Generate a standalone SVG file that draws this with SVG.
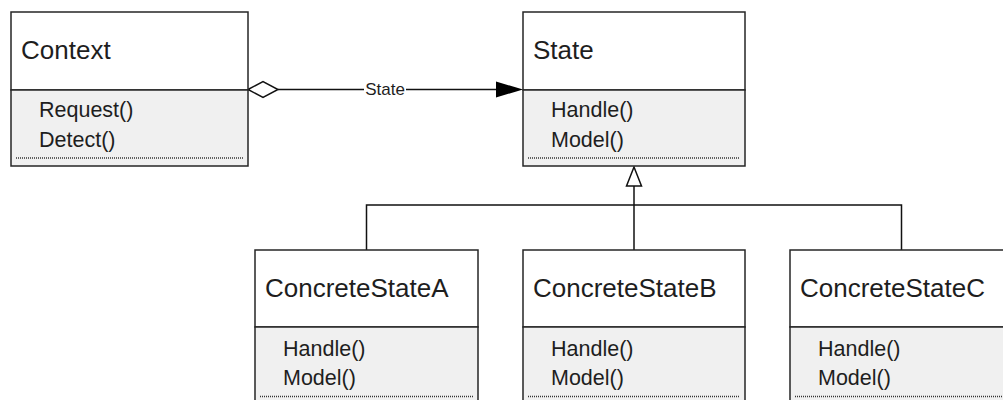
<svg xmlns="http://www.w3.org/2000/svg" width="1003" height="400" viewBox="0 0 1003 400">
<style>
.box{fill:#ffffff;stroke:#262626;stroke-width:1.5}
.ops{fill:#f0f0f0;stroke:#262626;stroke-width:1.5}
.dots{stroke:#333;stroke-width:1.3;stroke-dasharray:1 1;fill:none}
.title{font-family:"Liberation Sans",Arial,sans-serif;font-size:26px;fill:#1e1e1e}
.op{font-family:"Liberation Sans",Arial,sans-serif;font-size:21.5px;fill:#1e1e1e}
.lbl{font-family:"Liberation Sans",Arial,sans-serif;font-size:17px;fill:#1e1e1e}
.conn{stroke:#111;stroke-width:1.5;fill:none}
</style>
<rect width="1003" height="400" fill="#ffffff"/>
<g id="connectors">
<line class="conn" x1="278" y1="89.5" x2="500" y2="89.5"/>
<polygon points="248,89.5 263,81.5 278,89.5 263,97.5" fill="#ffffff" stroke="#111" stroke-width="1.5"/>
<polygon points="523,89.5 496,81.5 496,97.5" fill="#000"/>
<rect x="364" y="80" width="42" height="19" fill="#ffffff"/>
<text class="lbl" x="385" y="95" text-anchor="middle">State</text>
<polygon points="634,167 626.5,186 641.5,186" fill="#ffffff" stroke="#111" stroke-width="1.5"/>
<line class="conn" x1="634" y1="186" x2="634" y2="250"/>
<polyline class="conn" points="366.5,250 366.5,205 901.5,205 901.5,250"/>
</g>
<g id="Context">
<rect class="box" x="11" y="12" width="237" height="78"/>
<rect class="ops" x="11" y="90" width="237" height="76"/>
<line class="dots" x1="16" y1="158" x2="243" y2="158"/>
<text class="title" x="21" y="59">Context</text>
<text class="op" x="39" y="117">Request()</text>
<text class="op" x="39" y="147">Detect()</text>
</g>
<g id="State">
<rect class="box" x="523" y="12" width="222" height="78"/>
<rect class="ops" x="523" y="90" width="222" height="76"/>
<line class="dots" x1="528" y1="158" x2="740" y2="158"/>
<text class="title" x="533" y="59">State</text>
<text class="op" x="551" y="117">Handle()</text>
<text class="op" x="551" y="147">Model()</text>
</g>
<g id="ConcreteStateA">
<rect class="box" x="255" y="250" width="223" height="77"/>
<rect class="ops" x="255" y="327" width="223" height="77"/>
<line class="dots" x1="260" y1="396.5" x2="473" y2="396.5"/>
<text class="title" x="265" y="297">ConcreteStateA</text>
<text class="op" x="283" y="356">Handle()</text>
<text class="op" x="283" y="385">Model()</text>
</g>
<g id="ConcreteStateB">
<rect class="box" x="523" y="250" width="222" height="77"/>
<rect class="ops" x="523" y="327" width="222" height="77"/>
<line class="dots" x1="528" y1="396.5" x2="740" y2="396.5"/>
<text class="title" x="533" y="297">ConcreteStateB</text>
<text class="op" x="551" y="356">Handle()</text>
<text class="op" x="551" y="385">Model()</text>
</g>
<g id="ConcreteStateC">
<rect class="box" x="790" y="250" width="223" height="77"/>
<rect class="ops" x="790" y="327" width="223" height="77"/>
<line class="dots" x1="795" y1="396.5" x2="1008" y2="396.5"/>
<text class="title" x="800" y="297">ConcreteStateC</text>
<text class="op" x="818" y="356">Handle()</text>
<text class="op" x="818" y="385">Model()</text>
</g>
</svg>
